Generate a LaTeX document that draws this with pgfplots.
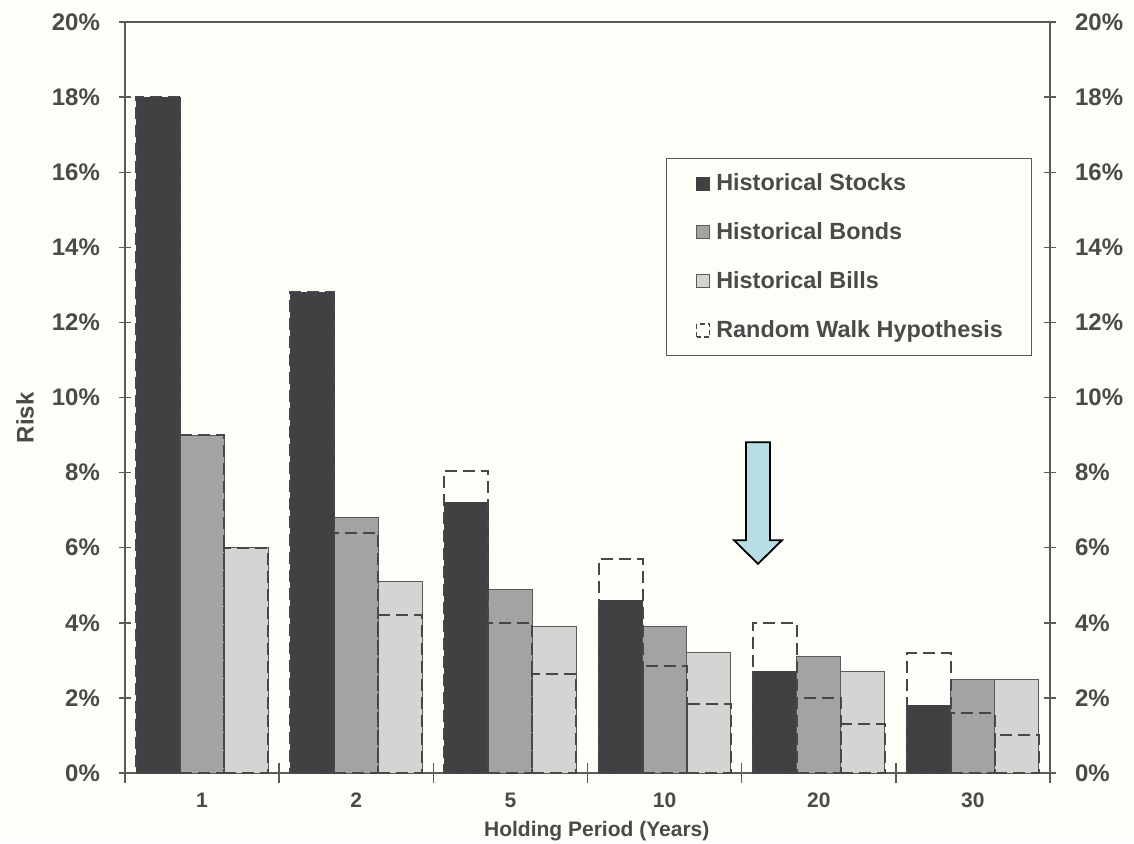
\documentclass[border=0pt]{standalone}
\usepackage{pgfplots}
\pgfplotsset{compat=1.18}
\usepackage{pgfplotstable}
\usepackage{fontspec}
\setmainfont{Liberation Sans}
\definecolor{txt}{HTML}{4A4A4A}
\definecolor{bg}{HTML}{FEFEF8}
\definecolor{stk}{HTML}{414143}
\definecolor{bnd}{HTML}{A3A3A3}
\definecolor{bil}{HTML}{D4D4D2}
\definecolor{edge}{HTML}{5A5A5A}
\definecolor{dash}{HTML}{474747}
\definecolor{arrowc}{HTML}{B8DDE3}

\pgfplotstableread{
x stocks bonds bills rwstocks rwbonds rwbills
0 18.0 9.0 6.0 18.0 9.0 6.0
1 12.8 6.8 5.1 12.8 6.4 4.2
2 7.2 4.9 3.9 8.05 4.0 2.65
3 4.6 3.9 3.2 5.7 2.85 1.85
4 2.7 3.1 2.7 4.0 2.0 1.3
5 1.8 2.5 2.5 3.2 1.6 1.0
}\data

\pgfplotsset{
  common/.style={
    scale only axis, width=462.5pt, height=375.5pt,
    xmin=-0.5, xmax=5.5, ymin=0, ymax=20,
    axis line style={draw=edge, line width=0.7pt},
    ytick={0,2,...,20},
    yticklabel={\pgfmathprintnumber[assume math mode=true]{\tick}\%},
    tick align=center, major tick length=6pt,
    tick style={draw=edge, line width=0.7pt},
    yticklabel style={font=\fontsize{12}{14}\selectfont\bfseries, text=txt},
  },
  rw/.style={ybar, bar width=22pt, fill=none, draw=dash, line width=1pt,
    dash pattern=on 6pt off 3pt},
}

\begin{document}
\begin{tikzpicture}
\fill[bg] (-62.5pt,-35pt) rectangle (504.5pt,386.5pt);
\begin{axis}[common,
  xtick={0,...,5}, xticklabels={1,2,5,10,20,30},
  xtick pos=bottom, ytick pos=left,
  major x tick style={draw=none},
  minor xtick={-0.5,0.5,...,5.5},
  minor x tick style={draw=edge, line width=0.7pt},
  minor tick length=10pt,
  xticklabel style={font=\fontsize{10.5}{12}\selectfont\bfseries, text=txt, anchor=center, yshift=-10.5pt},
  yticklabel style={anchor=east, xshift=-6pt},
  xlabel={Holding Period (Years)},
  ylabel={Risk},
  every axis x label/.style={at={(axis description cs:0.51,-0.078)}, anchor=center,
    font=\fontsize{10.5}{12}\selectfont\bfseries, text=txt},
  every axis y label/.style={at={(axis description cs:-0.108,0.473)}, anchor=center, rotate=90,
    font=\fontsize{12}{14}\selectfont\bfseries, text=txt},
  legend style={at={(axis description cs:0.585,0.819)}, anchor=north west,
    draw=edge, line width=0.6pt, fill=bg,
    font=\fontsize{11.7}{13}\selectfont\bfseries, text=txt,
    inner xsep=14.5pt, inner ysep=7.5pt, row sep=14.5pt, column sep=3pt,
    nodes={inner sep=0pt}},
  legend cell align=left,
]
\addplot[ybar, bar width=22pt, bar shift=-22pt, fill=stk, draw=stk, line width=0.5pt,
  legend image code/.code={\draw[fill=stk, draw=stk] (0pt,-3.25pt) rectangle (6.5pt,3.25pt);}]
  table[x=x, y=stocks]{\data};
\addlegendentry{Historical Stocks}
\addplot[ybar, bar width=22pt, bar shift=0pt, fill=bnd, draw=edge, line width=0.5pt,
  legend image code/.code={\draw[fill=bnd, draw=edge] (0pt,-3.25pt) rectangle (6.5pt,3.25pt);}]
  table[x=x, y=bonds]{\data};
\addlegendentry{Historical Bonds}
\addplot[ybar, bar width=22pt, bar shift=22pt, fill=bil, draw=edge, line width=0.5pt,
  legend image code/.code={\draw[fill=bil, draw=edge] (0pt,-3.25pt) rectangle (6.5pt,3.25pt);}]
  table[x=x, y=bills]{\data};
\addlegendentry{Historical Bills}
\addplot[rw, bar shift=-22pt,
  legend image code/.code={\draw[draw=dash, line width=0.8pt, dash pattern=on 2.5pt off 1.5pt] (0pt,-3.25pt) rectangle (6.5pt,3.25pt);}]
  table[x=x, y=rwstocks]{\data};
\addlegendentry{Random Walk Hypothesis}
\addplot[forget plot, rw, bar shift=0pt] table[x=x, y=rwbonds]{\data};
\addplot[forget plot, rw, bar shift=22pt] table[x=x, y=rwbills]{\data};
\draw[fill=arrowc, draw=black, line width=0.9pt]
  (axis cs:3.528,8.81) -- (axis cs:3.684,8.81) -- (axis cs:3.684,6.20) -- (axis cs:3.762,6.20)
  -- (axis cs:3.606,5.57) -- (axis cs:3.450,6.20) -- (axis cs:3.528,6.20) -- cycle;
\end{axis}
\begin{axis}[common,
  axis x line=none, axis y line*=right,
  yticklabel style={anchor=west, xshift=6pt},
]
\end{axis}
\pgfresetboundingbox
\path (-62.5pt,-35pt) rectangle (504.5pt,386.5pt);
\end{tikzpicture}
\end{document}
